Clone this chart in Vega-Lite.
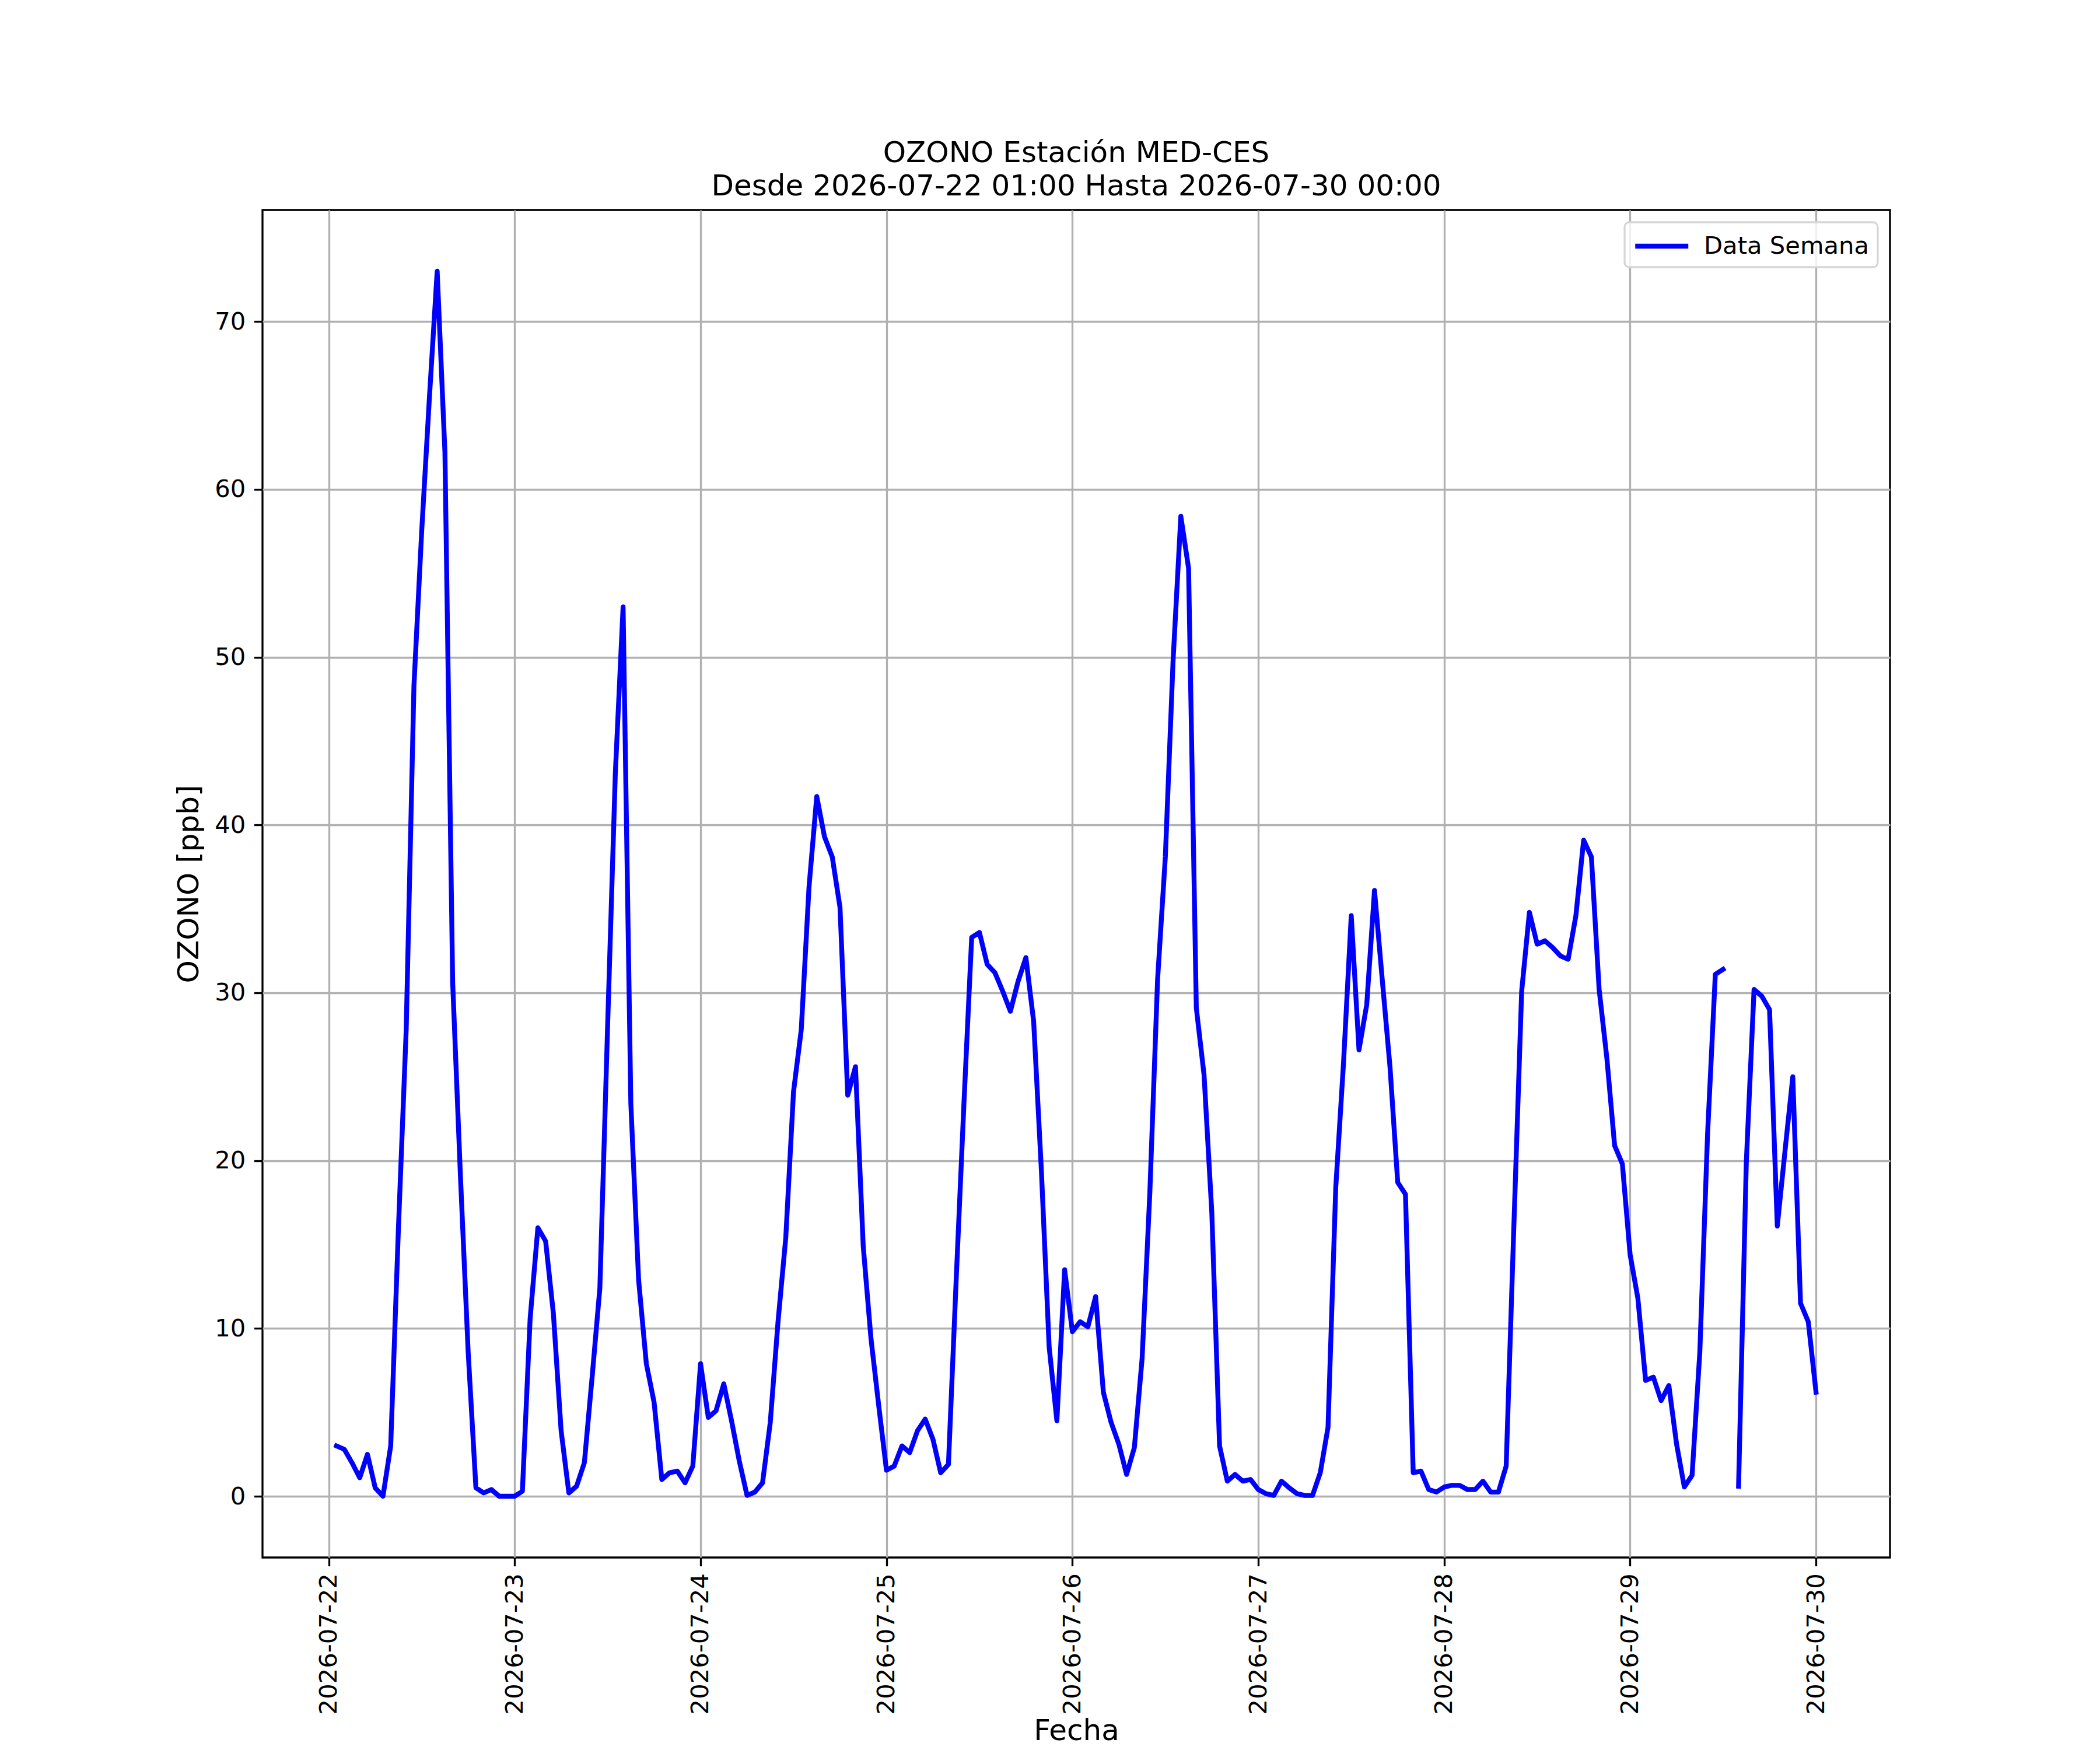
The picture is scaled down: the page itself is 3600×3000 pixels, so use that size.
{
  "$schema": "https://vega.github.io/schema/vega-lite/v6.json",
  "width": 2790,
  "height": 2310,
  "autosize": {"type": "none"},
  "padding": {"left": 450, "top": 360, "right": 360, "bottom": 330},
  "background": "white",
  "config": {
    "font": "DejaVu Sans",
    "view": {"stroke": "black", "strokeWidth": 3.33},
    "axis": {
      "grid": true, "gridColor": "#b0b0b0", "gridWidth": 3.33, "gridOpacity": 1,
      "domain": false,
      "ticks": true, "tickSize": 14.6, "tickWidth": 3.33, "tickColor": "black",
      "labelFont": "DejaVu Sans", "labelFontSize": 41.7, "labelColor": "black", "labelPadding": 12,
      "labelFlush": false, "labelOverlap": false, "labelLimit": 0,
      "titleFont": "DejaVu Sans", "titleFontSize": 50, "titleFontWeight": "normal", "titleColor": "black"
    }
  },
  "title": {
    "text": ["OZONO Estación MED-CES", "Desde 2026-07-22 01:00 Hasta 2026-07-30 00:00"],
    "fontSize": 50, "font": "DejaVu Sans", "fontWeight": "normal", "color": "black",
    "anchor": "middle", "offset": 15, "lineHeight": 57
  },
  "data": {"values": [
    {"t":"2026-07-22T01:00","v":3.0},{"t":"2026-07-22T02:00","v":2.8},{"t":"2026-07-22T03:00","v":2.0},{"t":"2026-07-22T04:00","v":1.1},
    {"t":"2026-07-22T05:00","v":2.5},{"t":"2026-07-22T06:00","v":0.5},{"t":"2026-07-22T07:00","v":0.0},{"t":"2026-07-22T08:00","v":3.0},
    {"t":"2026-07-22T09:00","v":16.0},{"t":"2026-07-22T10:00","v":27.8},{"t":"2026-07-22T11:00","v":48.3},{"t":"2026-07-22T12:00","v":57.5},
    {"t":"2026-07-22T13:00","v":65.5},{"t":"2026-07-22T14:00","v":73.0},{"t":"2026-07-22T15:00","v":62.2},{"t":"2026-07-22T16:00","v":30.6},
    {"t":"2026-07-22T17:00","v":19.1},{"t":"2026-07-22T18:00","v":8.6},{"t":"2026-07-22T19:00","v":0.5},{"t":"2026-07-22T20:00","v":0.2},
    {"t":"2026-07-22T21:00","v":0.4},{"t":"2026-07-22T22:00","v":0.0},{"t":"2026-07-22T23:00","v":0.0},
    {"t":"2026-07-23T00:00","v":0.0},{"t":"2026-07-23T01:00","v":0.3},{"t":"2026-07-23T02:00","v":10.6},{"t":"2026-07-23T03:00","v":16.0},
    {"t":"2026-07-23T04:00","v":15.2},{"t":"2026-07-23T05:00","v":10.9},{"t":"2026-07-23T06:00","v":3.9},{"t":"2026-07-23T07:00","v":0.2},
    {"t":"2026-07-23T08:00","v":0.6},{"t":"2026-07-23T09:00","v":2.0},{"t":"2026-07-23T10:00","v":7.1},{"t":"2026-07-23T11:00","v":12.4},
    {"t":"2026-07-23T12:00","v":28.0},{"t":"2026-07-23T13:00","v":43.1},{"t":"2026-07-23T14:00","v":53.0},{"t":"2026-07-23T15:00","v":23.4},
    {"t":"2026-07-23T16:00","v":12.9},{"t":"2026-07-23T17:00","v":7.9},{"t":"2026-07-23T18:00","v":5.6},{"t":"2026-07-23T19:00","v":1.0},
    {"t":"2026-07-23T20:00","v":1.4},{"t":"2026-07-23T21:00","v":1.5},{"t":"2026-07-23T22:00","v":0.8},{"t":"2026-07-23T23:00","v":1.8},
    {"t":"2026-07-24T00:00","v":7.9},{"t":"2026-07-24T01:00","v":4.7},{"t":"2026-07-24T02:00","v":5.1},{"t":"2026-07-24T03:00","v":6.7},
    {"t":"2026-07-24T04:00","v":4.5},{"t":"2026-07-24T05:00","v":2.1},{"t":"2026-07-24T06:00","v":0.05},{"t":"2026-07-24T07:00","v":0.25},
    {"t":"2026-07-24T08:00","v":0.8},{"t":"2026-07-24T09:00","v":4.4},{"t":"2026-07-24T10:00","v":10.4},{"t":"2026-07-24T11:00","v":15.4},
    {"t":"2026-07-24T12:00","v":24.1},{"t":"2026-07-24T13:00","v":27.8},{"t":"2026-07-24T14:00","v":36.3},{"t":"2026-07-24T15:00","v":41.7},
    {"t":"2026-07-24T16:00","v":39.3},{"t":"2026-07-24T17:00","v":38.1},{"t":"2026-07-24T18:00","v":35.1},{"t":"2026-07-24T19:00","v":23.9},
    {"t":"2026-07-24T20:00","v":25.6},{"t":"2026-07-24T21:00","v":14.9},{"t":"2026-07-24T22:00","v":9.4},{"t":"2026-07-24T23:00","v":5.4},
    {"t":"2026-07-25T00:00","v":1.55},{"t":"2026-07-25T01:00","v":1.8},{"t":"2026-07-25T02:00","v":3.0},{"t":"2026-07-25T03:00","v":2.6},
    {"t":"2026-07-25T04:00","v":3.9},{"t":"2026-07-25T05:00","v":4.6},{"t":"2026-07-25T06:00","v":3.4},{"t":"2026-07-25T07:00","v":1.4},
    {"t":"2026-07-25T08:00","v":1.9},{"t":"2026-07-25T09:00","v":12.9},{"t":"2026-07-25T10:00","v":23.4},{"t":"2026-07-25T11:00","v":33.3},
    {"t":"2026-07-25T12:00","v":33.6},{"t":"2026-07-25T13:00","v":31.7},{"t":"2026-07-25T14:00","v":31.2},{"t":"2026-07-25T15:00","v":30.1},
    {"t":"2026-07-25T16:00","v":28.9},{"t":"2026-07-25T17:00","v":30.7},{"t":"2026-07-25T18:00","v":32.1},{"t":"2026-07-25T19:00","v":28.3},
    {"t":"2026-07-25T20:00","v":19.4},{"t":"2026-07-25T21:00","v":8.9},{"t":"2026-07-25T22:00","v":4.5},{"t":"2026-07-25T23:00","v":13.5},
    {"t":"2026-07-26T00:00","v":9.8},{"t":"2026-07-26T01:00","v":10.4},{"t":"2026-07-26T02:00","v":10.1},{"t":"2026-07-26T03:00","v":11.9},
    {"t":"2026-07-26T04:00","v":6.2},{"t":"2026-07-26T05:00","v":4.4},{"t":"2026-07-26T06:00","v":3.1},{"t":"2026-07-26T07:00","v":1.3},
    {"t":"2026-07-26T08:00","v":2.9},{"t":"2026-07-26T09:00","v":8.2},{"t":"2026-07-26T10:00","v":18.1},{"t":"2026-07-26T11:00","v":30.8},
    {"t":"2026-07-26T12:00","v":38.1},{"t":"2026-07-26T13:00","v":49.8},{"t":"2026-07-26T14:00","v":58.4},{"t":"2026-07-26T15:00","v":55.3},
    {"t":"2026-07-26T16:00","v":29.1},{"t":"2026-07-26T17:00","v":25.1},{"t":"2026-07-26T18:00","v":16.9},{"t":"2026-07-26T19:00","v":3.0},
    {"t":"2026-07-26T20:00","v":0.9},{"t":"2026-07-26T21:00","v":1.3},{"t":"2026-07-26T22:00","v":0.9},{"t":"2026-07-26T23:00","v":1.0},
    {"t":"2026-07-27T00:00","v":0.4},{"t":"2026-07-27T01:00","v":0.15},{"t":"2026-07-27T02:00","v":0.05},{"t":"2026-07-27T03:00","v":0.9},
    {"t":"2026-07-27T04:00","v":0.5},{"t":"2026-07-27T05:00","v":0.15},{"t":"2026-07-27T06:00","v":0.05},{"t":"2026-07-27T07:00","v":0.05},
    {"t":"2026-07-27T08:00","v":1.4},{"t":"2026-07-27T09:00","v":4.1},{"t":"2026-07-27T10:00","v":18.4},{"t":"2026-07-27T11:00","v":25.8},
    {"t":"2026-07-27T12:00","v":34.6},{"t":"2026-07-27T13:00","v":26.6},{"t":"2026-07-27T14:00","v":29.3},{"t":"2026-07-27T15:00","v":36.1},
    {"t":"2026-07-27T16:00","v":30.8},{"t":"2026-07-27T17:00","v":25.6},{"t":"2026-07-27T18:00","v":18.7},{"t":"2026-07-27T19:00","v":18.0},
    {"t":"2026-07-27T20:00","v":1.4},{"t":"2026-07-27T21:00","v":1.5},{"t":"2026-07-27T22:00","v":0.4},{"t":"2026-07-27T23:00","v":0.25},
    {"t":"2026-07-28T00:00","v":0.55},{"t":"2026-07-28T01:00","v":0.65},{"t":"2026-07-28T02:00","v":0.65},{"t":"2026-07-28T03:00","v":0.4},
    {"t":"2026-07-28T04:00","v":0.4},{"t":"2026-07-28T05:00","v":0.9},{"t":"2026-07-28T06:00","v":0.25},{"t":"2026-07-28T07:00","v":0.25},
    {"t":"2026-07-28T08:00","v":1.8},{"t":"2026-07-28T09:00","v":16.2},{"t":"2026-07-28T10:00","v":30.1},{"t":"2026-07-28T11:00","v":34.8},
    {"t":"2026-07-28T12:00","v":32.9},{"t":"2026-07-28T13:00","v":33.1},{"t":"2026-07-28T14:00","v":32.7},{"t":"2026-07-28T15:00","v":32.2},
    {"t":"2026-07-28T16:00","v":32.0},{"t":"2026-07-28T17:00","v":34.6},{"t":"2026-07-28T18:00","v":39.1},{"t":"2026-07-28T19:00","v":38.1},
    {"t":"2026-07-28T20:00","v":30.2},{"t":"2026-07-28T21:00","v":26.1},{"t":"2026-07-28T22:00","v":20.9},{"t":"2026-07-28T23:00","v":19.8},
    {"t":"2026-07-29T00:00","v":14.4},{"t":"2026-07-29T01:00","v":11.8},{"t":"2026-07-29T02:00","v":6.9},{"t":"2026-07-29T03:00","v":7.1},
    {"t":"2026-07-29T04:00","v":5.7},{"t":"2026-07-29T05:00","v":6.6},{"t":"2026-07-29T06:00","v":3.1},{"t":"2026-07-29T07:00","v":0.55},
    {"t":"2026-07-29T08:00","v":1.25},{"t":"2026-07-29T09:00","v":8.6},{"t":"2026-07-29T10:00","v":21.6},{"t":"2026-07-29T11:00","v":31.1},
    {"t":"2026-07-29T12:00","v":31.4},{"t":"2026-07-29T13:00","v":null},{"t":"2026-07-29T14:00","v":0.6},{"t":"2026-07-29T15:00","v":19.9},
    {"t":"2026-07-29T16:00","v":30.2},{"t":"2026-07-29T17:00","v":29.8},{"t":"2026-07-29T18:00","v":29.0},{"t":"2026-07-29T19:00","v":16.1},
    {"t":"2026-07-29T20:00","v":20.6},{"t":"2026-07-29T21:00","v":25.0},{"t":"2026-07-29T22:00","v":11.5},{"t":"2026-07-29T23:00","v":10.4},
    {"t":"2026-07-30T00:00","v":6.2}
  ]},
  "mark": {"type": "line", "strokeWidth": 8.33, "strokeJoin": "round", "strokeCap": "square"},
  "encoding": {
    "x": {
      "field": "t", "type": "temporal", "title": "Fecha",
      "scale": {"domain": [
        {"year": 2026, "month": 7, "date": 21, "hours": 15, "minutes": 27},
        {"year": 2026, "month": 7, "date": 30, "hours": 9, "minutes": 33}
      ], "nice": false},
      "axis": {
        "values": [
          {"year": 2026, "month": 7, "date": 22}, {"year": 2026, "month": 7, "date": 23},
          {"year": 2026, "month": 7, "date": 24}, {"year": 2026, "month": 7, "date": 25},
          {"year": 2026, "month": 7, "date": 26}, {"year": 2026, "month": 7, "date": 27},
          {"year": 2026, "month": 7, "date": 28}, {"year": 2026, "month": 7, "date": 29},
          {"year": 2026, "month": 7, "date": 30}
        ],
        "format": "%Y-%m-%d", "labelAngle": 270, "labelAlign": "right", "labelBaseline": "middle",
        "titlePadding": 72
      }
    },
    "y": {
      "field": "v", "type": "quantitative", "title": "OZONO [ppb]",
      "scale": {"domain": [-3.65, 76.65], "nice": false, "zero": false},
      "axis": {"values": [0, 10, 20, 30, 40, 50, 60, 70], "titlePadding": 18, "labelPadding": 14.6}
    },
    "color": {
      "datum": "Data Semana",
      "scale": {"range": ["#0000ff"]},
      "legend": {
        "title": null, "orient": "none", "legendX": 2335, "legendY": 21,
        "symbolType": "M-1,0H3", "symbolSize": 2070, "symbolStrokeWidth": 8.33,
        "symbolFillColor": "transparent", "symbolStrokeColor": "#0000ff",
        "labelFont": "DejaVu Sans", "labelFontSize": 41.7, "labelColor": "black", "labelOffset": 68, "labelLimit": 0,
        "padding": 14, "fillColor": "rgba(255,255,255,0.8)", "strokeColor": "#d6d6d6", "cornerRadius": 8,
        "encode": {"legend": {"update": {"strokeWidth": {"value": 3.3}}}}
      }
    }
  }
}
